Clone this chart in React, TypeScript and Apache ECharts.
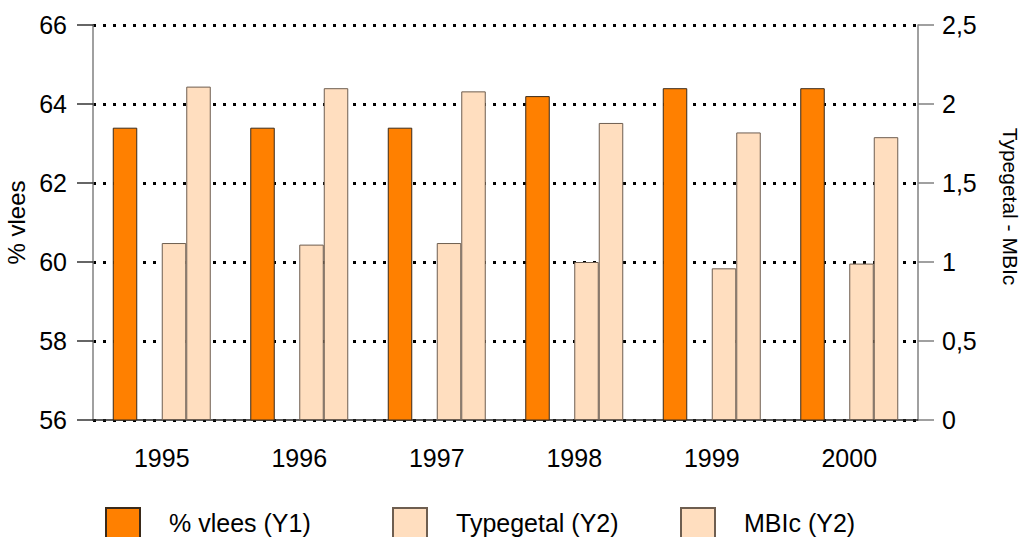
import React, { useEffect, useRef } from "react";
import * as echarts from "echarts";

const years = ["1995", "1996", "1997", "1998", "1999", "2000"];
const vlees = [63.4, 63.4, 63.4, 64.2, 64.4, 64.4];
const typegetal = [1.12, 1.11, 1.12, 1.0, 0.96, 0.99];
const mbic = [2.11, 2.1, 2.08, 1.88, 1.82, 1.79];
const spacer = [null, null, null, null, null, null];

const FONT = "Liberation Sans, Arial, sans-serif";
const ORANGE = "#FF8000";
const PEACH = "#FFDEBF";

export default function App() {
  const ref = useRef<HTMLDivElement>(null);
  useEffect(() => {
    if (!ref.current) return;
    const chart = echarts.init(ref.current, undefined, { renderer: "svg" });
    const legendCommon = {
      top: 507,
      padding: 0,
      itemWidth: 34,
      itemHeight: 30,
      icon: "rect",
      textStyle: { fontFamily: FONT, fontSize: 25, color: "#000", padding: [0, 0, 0, 24] },
      selectedMode: false,
    };
    chart.setOption({
      animation: false,
      textStyle: { fontFamily: FONT },
      grid: { left: 93, right: 107, top: 25, bottom: 117, containLabel: false, outerBoundsMode: "none" },
      legend: [
        { ...legendCommon, left: 105, data: ["% vlees (Y1)"] },
        { ...legendCommon, left: 392, data: ["Typegetal (Y2)"] },
        { ...legendCommon, left: 680, data: ["MBIc (Y2)"] },
      ],
      xAxis: {
        type: "category",
        data: years,
        axisLine: { lineStyle: { color: "#222", width: 1.5 } },
        axisTick: { alignWithLabel: true, length: 15, lineStyle: { color: "#555", width: 1.5 } },
        axisLabel: { fontSize: 25, color: "#000", margin: 25, fontFamily: FONT },
        splitLine: { show: false },
      },
      yAxis: [
        {
          type: "value",
          min: 56,
          max: 66,
          interval: 2,
          name: "% vlees",
          nameLocation: "middle",
          nameGap: 63,
          nameTextStyle: { fontSize: 24, color: "#000", fontFamily: FONT },
          axisLine: { show: true, lineStyle: { color: "#808080", width: 1.5 } },
          axisTick: { show: true, length: 16, lineStyle: { color: "#333", width: 1.5 } },
          axisLabel: { fontSize: 25, color: "#000", margin: 26, fontFamily: FONT },
          splitLine: { show: true, lineStyle: { color: "#000", width: 3, type: [3, 7] } },
        },
        {
          type: "value",
          min: 0,
          max: 2.5,
          interval: 0.5,
          position: "right",
          name: "Typegetal - MBIc",
          nameLocation: "middle",
          nameGap: 82,
          nameRotate: -90,
          nameTextStyle: { fontSize: 21, color: "#000", fontFamily: FONT, padding: [0, 32, 0, 0] },
          axisLine: { show: true, lineStyle: { color: "#808080", width: 1.5 } },
          axisTick: { show: true, length: 16, lineStyle: { color: "#808080", width: 1.5 } },
          axisLabel: {
            fontSize: 25,
            color: "#000",
            margin: 24,
            fontFamily: FONT,
            formatter: (v: number) => String(v).replace(".", ","),
          },
          splitLine: { show: false },
        },
      ],
      series: [
        {
          name: "% vlees (Y1)",
          type: "bar",
          yAxisIndex: 0,
          data: vlees,
          barWidth: 24.5,
          barGap: "0%",
          itemStyle: { color: ORANGE, borderColor: "#3a2a1a", borderWidth: 1 },
        },
        {
          name: "spacer",
          type: "bar",
          yAxisIndex: 0,
          data: spacer,
          barWidth: 24.5,
          barGap: "0%",
        },
        {
          name: "Typegetal (Y2)",
          type: "bar",
          yAxisIndex: 1,
          data: typegetal,
          barWidth: 24.5,
          barGap: "0%",
          itemStyle: { color: PEACH, borderColor: "#6e5e50", borderWidth: 1 },
        },
        {
          name: "MBIc (Y2)",
          type: "bar",
          yAxisIndex: 1,
          data: mbic,
          barWidth: 24.5,
          barGap: "0%",
          itemStyle: { color: PEACH, borderColor: "#6e5e50", borderWidth: 1 },
        },
      ],
    });
    return () => chart.dispose();
  }, []);
  return <div ref={ref} style={{ width: 1025, height: 537, position: "absolute", left: 0, top: 0 }} />;
}
